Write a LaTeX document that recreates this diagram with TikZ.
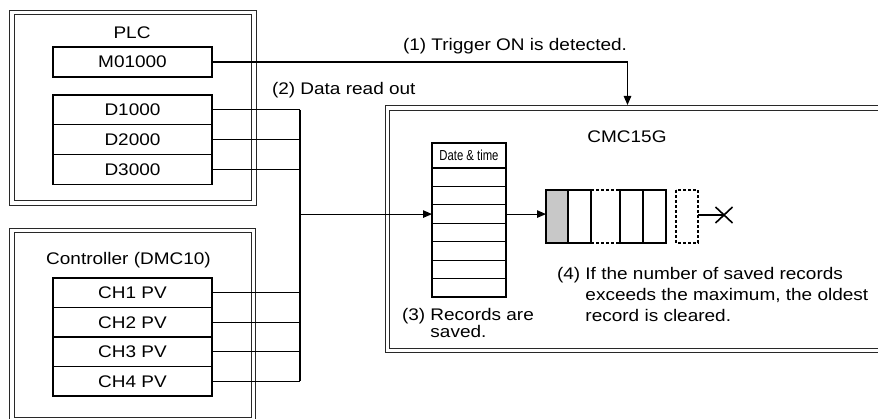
\documentclass[tikz,border=0pt]{standalone}
\usepackage{fontspec}
\setmainfont{Liberation Sans}[FakeStretch=1.13]
\newfontfamily\condfont{Liberation Sans}[FakeStretch=0.78]
\usetikzlibrary{arrows.meta,shapes.misc}
\definecolor{qgray}{RGB}{200,200,200}
\definecolor{framec}{RGB}{40,40,40}
\begin{document}
\begin{tikzpicture}[x=1pt,y=-1pt,
  every node/.style={font=\fontsize{16.8}{20}\selectfont, inner sep=0pt, outer sep=0pt},
  frame/.style={draw=framec, line width=1.1pt, double, double distance=3.6pt},
  regbox/.style={draw, line width=1.1pt, minimum width=159pt, anchor=north west},
  rowc/.style={draw, line width=1.1pt, minimum width=74pt, minimum height=18.43pt, anchor=north west},
  qcell/.style={draw, line width=1.1pt, minimum height=53pt, anchor=north west},
  dashq/.style={line width=1.1pt, dash pattern=on 3pt off 2pt},
  conn/.style={line width=1.1pt},
  arr/.style={conn, -{Triangle[length=9pt,width=7.5pt]}}
]
\useasboundingbox (0,0) rectangle (878,419);
\clip (0,0) rectangle (878,419);

% frames
\draw[frame] (12,12.5) rectangle (254,203);
\draw[frame] (12,230.5) rectangle (253.5,420);
\draw[frame] (387.5,108.2) rectangle (900,350.5);

% PLC
\node[anchor=base] (plc) at (132,38.3) {PLC};
\node[regbox, minimum height=30pt] (m) at (53,47) {M01000};
\node[regbox, minimum height=29.7pt] (d1) at (53,95) {D1000};
\node[regbox, minimum height=29.7pt] (d2) at (d1.south west) {D2000};
\node[regbox, minimum height=29.7pt] (d3) at (d2.south west) {D3000};

% Controller
\node[anchor=base] (ctl) at (128.5,265) {Controller (DMC10)};
\node[regbox, minimum height=29.5pt] (c1) at (53,278) {CH1 PV};
\node[regbox, minimum height=29.5pt] (c2) at (c1.south west) {CH2 PV};
\node[regbox, minimum height=29.5pt] (c3) at (c2.south west) {CH3 PV};
\node[regbox, minimum height=29.5pt] (c4) at (c3.south west) {CH4 PV};

% CMC15G
\node[anchor=base] (cmct) at (627,142.7) {CMC15G};
\node[draw, line width=1.1pt, minimum width=74pt, minimum height=25pt, anchor=north west,
      font=\condfont\fontsize{14.5}{16}\selectfont] (hdr) at (432,143) {Date \& time};
\node[rowc] (r1) at (hdr.south west) {};
\foreach \i [remember=\i as \p (initially 1)] in {2,...,7}
  \node[rowc] (r\i) at (r\p.south west) {};

% queue
\node[qcell, fill=qgray, minimum width=22pt] (q1) at (546,190) {};
\node[qcell, minimum width=23pt] (q2) at (q1.north east) {};
\node[qcell, minimum width=23pt] (q3) at (620,190) {};
\node[qcell, minimum width=23pt] (q4) at (q3.north east) {};
\node[qcell, draw=none, minimum width=22pt] (q5) at (676,190) {};
\draw[dashq] (q5.north west) rectangle (q5.south east);
\draw[dashq] (q2.north east) -- (q3.north west);
\draw[dashq] (q2.south east) -- (q3.south west);
\node[cross out, draw, line width=1.6pt, minimum width=17pt, minimum height=16pt] (xx) at (724,215) {};
\draw[conn] (q5.east |- xx.center) -- (xx.center);

% connectors
\coordinate (bus) at (300,0);
\coordinate (trig) at (627.5,105);
\draw[arr] (m.east) -| (trig);
\foreach \n in {d1,d2,d3,c1,c2,c3,c4}
  \draw[conn] (\n.east) -- (\n.east -| bus);
\draw[conn] (d1.east -| bus) -- (c4.east -| bus);
\draw[arr] (bus |- r3.west) -- (r3.west);
\draw[arr] (r3.east) -- (q1.west |- r3.east);

% labels
\node[anchor=base west] (l1) at (403,51) {(1) Trigger ON is detected.};
\node[anchor=base west] (l2) at (272,95) {(2) Data read out};
\node[anchor=base west] (l3a) at (402,320.7) {(3) Records are};
\node[anchor=base west] (l3b) at (402,338) {\hphantom{(3) }saved.};
\node[anchor=base west] (l4a) at (557,280) {(4) If the number of saved records};
\node[anchor=base west] (l4b) at (557,301) {\hphantom{(4) }exceeds the maximum, the oldest};
\node[anchor=base west] (l4c) at (557,322) {\hphantom{(4) }record is cleared.};
\end{tikzpicture}
\end{document}
